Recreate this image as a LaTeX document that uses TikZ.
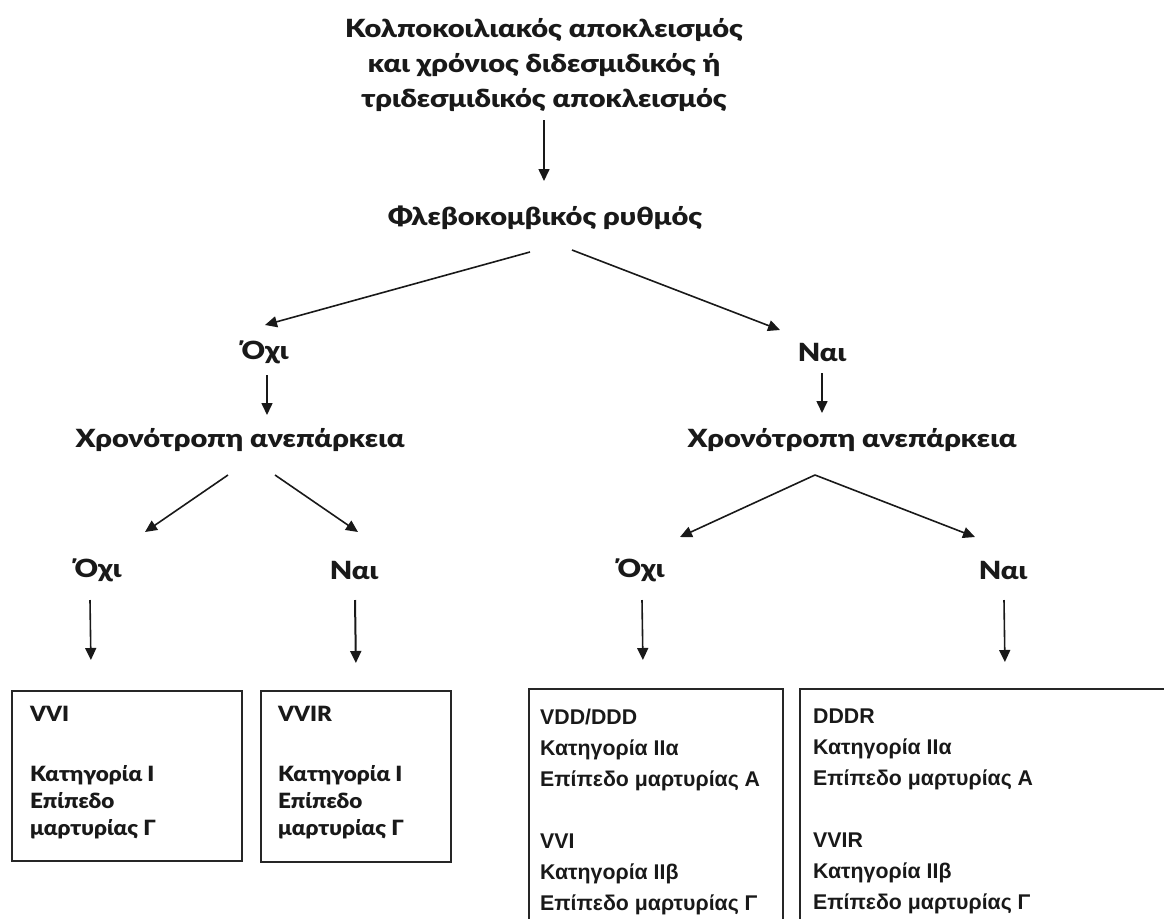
\documentclass[tikz,border=0pt]{standalone}
\usepackage{fontspec}
\setmainfont{Lato}
\newfontfamily\lblfont[FakeStretch=1.16,BoldFont={Lato Black}]{Lato}
\newfontfamily\boxfont[FakeStretch=1.07,BoldFont={Lato Black}]{Lato}
\newfontfamily\arialb{Liberation Sans}
\usetikzlibrary{arrows.meta,calc}
\begin{document}
\begin{tikzpicture}[x=1pt,y=-1pt,
  lbl/.style={inner sep=0pt,font=\lblfont\fontsize{25}{35}\selectfont\bfseries,text=black!90,align=center},
  boxtxt/.style={inner sep=0pt,anchor=north west,align=left,font=\boxfont\fontsize{21}{27}\selectfont\bfseries,text=black!90},
  boxtxtb/.style={inner sep=0pt,anchor=north west,align=left,font=\arialb\fontsize{21.3}{31}\selectfont\bfseries,text=black!90},
  frame/.style={draw=black!85,line width=1.8pt,inner sep=0pt,anchor=north west},
  arr/.style={draw=black!90,line width=1.6pt,-{Triangle[length=12pt,width=11pt]}},
  ln/.style={draw=black!90,line width=1.6pt}]
\useasboundingbox (0,0) rectangle (1164,918);
\clip (0,0) rectangle (1164,918);

\node[lbl] (title) at (544,65) {Κολποκοιλιακός αποκλεισμός\\και χρόνιος διδεσμιδικός ή\\τριδεσμιδικός αποκλεισμός};
\node[lbl] (phleb) at (545,218) {Φλεβοκομβικός ρυθμός};
\node[lbl] (no1) at (265,352) {Όχι};
\node[lbl] (yes1) at (822,352) {Ναι};
\node[lbl] (chr1) at (240,440) {Χρονότροπη ανεπάρκεια};
\node[lbl] (chr2) at (852,440) {Χρονότροπη ανεπάρκεια};
\node[lbl] (no2) at (98,570) {Όχι};
\node[lbl] (yes2) at (354,570) {Ναι};
\node[lbl] (no3) at (641,570) {Όχι};
\node[lbl] (yes3) at (1003,570) {Ναι};

\node[frame,minimum width=230pt,minimum height=170pt] (box1) at (11,690) {};
\node[frame,minimum width=190pt,minimum height=171pt] (box2) at (260,690) {};
\node[frame,minimum width=254pt,minimum height=260pt] (box3) at (528,688) {};
\node[frame,minimum width=381pt,minimum height=260pt] (box4) at (799,688) {};

\node[boxtxt] (t1) at ($(box1.north west)+(19,16)$) {VVI\\[33pt]Κατηγορία I\\Επίπεδο\\μαρτυρίας Γ};
\node[boxtxt] (t2) at ($(box2.north west)+(18,16)$) {VVIR\\[33pt]Κατηγορία I\\Επίπεδο\\μαρτυρίας Γ};
\node[boxtxtb] (t3) at ($(box3.north west)+(12,21)$) {VDD/DDD\\Κατηγορία IIα\\Επίπεδο μαρτυρίας Α\\[31pt]VVI\\Κατηγορία IIβ\\Επίπεδο μαρτυρίας Γ};
\node[boxtxtb] (t4) at ($(box4.north west)+(14,21)$) {DDDR\\Κατηγορία IIα\\Επίπεδο μαρτυρίας Α\\[31pt]VVIR\\Κατηγορία IIβ\\Επίπεδο μαρτυρίας Γ};

\draw[arr] ($(title.center)+(0,55)$) -- ($(phleb.center)+(-1,-37)$);
\draw[arr] ($(phleb.center)+(-15,34)$) -- ($(no1.center)+(0,-27)$);
\draw[arr] ($(phleb.center)+(27,32)$) -- ($(yes1.center)+(-42,-22)$);
\draw[arr] ($(no1.center)+(2,23)$) -- ($(chr1.center)+(27,-25)$);
\draw[arr] ($(yes1.center)+(0,21)$) -- ($(chr2.center)+(-30,-27)$);
\draw[arr] ($(chr1.center)+(-12,35)$) -- ($(no2.center)+(47,-38)$);
\draw[arr] ($(chr1.center)+(35,35)$) -- ($(yes2.center)+(4,-38)$);
\coordinate (apex) at ($(chr2.center)+(-37,35)$);
\draw[arr] (apex) -- ($(no3.center)+(39,-33)$);
\draw[arr] (apex) -- ($(yes3.center)+(-28,-33)$);
\draw[arr] ($(no2.center)+(-8,30)$) -- ($(box1.north)+(-36,-30)$);
\draw[arr,line width=2pt] ($(yes2.center)+(1,30)$) -- ($(box2.north)+(0,-27)$);
\draw[arr] ($(no3.center)+(1,30)$) -- ($(box3.north)+(-13,-28)$);
\draw[arr] ($(yes3.center)+(1,30)$) -- ($(box4.north)+(14.5,-26)$);
\end{tikzpicture}
\end{document}
